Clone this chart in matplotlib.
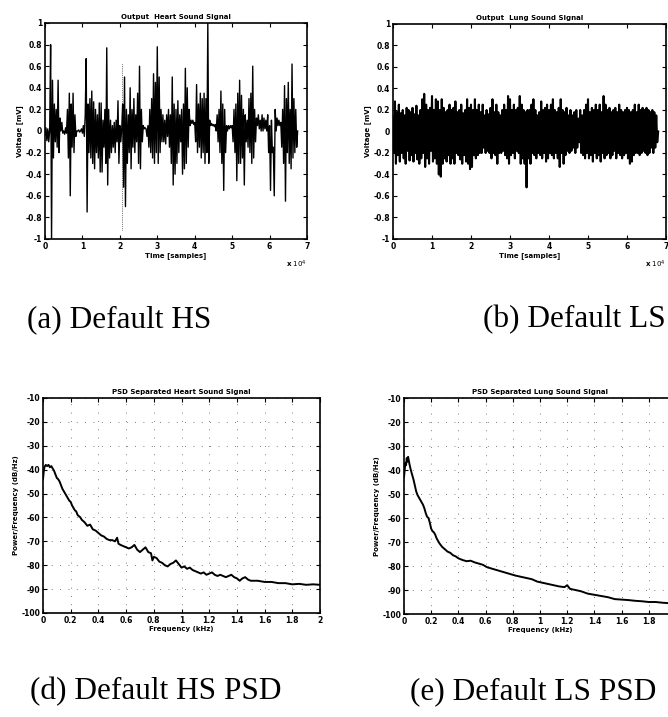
import numpy as np
import matplotlib
matplotlib.use('Agg')
import matplotlib.pyplot as plt
from matplotlib.ticker import FuncFormatter

plt.rcParams['axes.unicode_minus'] = False

# heart sound signal, one value every 250 samples
hs_volt = [
    -0.04, 0.03, -0.09, 0.02, -0.1, 0.0, 0.8, -1.0, 0.47, -0.25,
    0.25, -0.1, 0.2, -0.15, 0.47, -0.2, 0.12, 0.0, 0.08, -0.02,
    0.0, -0.03, 0.03, -0.02, 0.2, -0.25, 0.35, -0.6, 0.25, -0.15,
    0.35, -0.2, 0.15, -0.05, 0.0, 0.0, 0.01, -0.01, 0.0, 0.02,
    -0.02, 0.05, -0.05, 0.15, 0.67, -0.75, 0.25, -0.2, 0.3, -0.25,
    0.37, -0.3, 0.27, -0.35, 0.2, -0.2, 0.15, -0.25, 0.26, -0.38,
    0.26, -0.38, 0.1, -0.15, 0.2, -0.3, 0.77, -0.5, 0.2, -0.25,
    0.1, -0.2, 0.05, -0.15, 0.08, -0.2, 0.1, -0.1, 0.28, -0.3,
    0.05, -0.1, 0.02, 0.25, -0.52, 0.5, -0.7, 0.2, -0.3, 0.15,
    -0.2, 0.4, -0.35, 0.2, -0.15, 0.3, -0.2, 0.15, -0.1, 0.35,
    -0.3, 0.6, -0.35, 0.2, -0.1, 0.05, 0.02, 0.03, 0.02, -0.05,
    0.05, -0.15, 0.2, -0.2, 0.3, -0.25, 0.53, -0.3, 0.45, -0.2,
    0.78, -0.3, 0.5, -0.2, 0.2, -0.1, 0.15, -0.1, 0.1, -0.12,
    0.15, -0.05, 0.2, -0.15, 0.15, -0.3, 0.5, -0.5, 0.25, -0.4,
    0.2, -0.3, 0.28, -0.2, 0.15, -0.1, 0.2, -0.4, 0.25, -0.35,
    0.58, -0.3, 0.4, -0.15, 0.2, 0.05, 0.1, 0.07, 0.1, 0.06,
    0.08, -0.1, 0.43, -0.2, 0.25, -0.15, 0.35, -0.25, 0.3, -0.2,
    0.35, -0.3, 0.3, -0.2, 1.0, -0.3, 0.1, 0.05, 0.07, 0.05,
    0.06, 0.04, 0.06, 0.0, 0.15, -0.1, 0.2, -0.2, 0.37, -0.3,
    0.25, -0.55, 0.2, -0.2, 0.05, 0.0, 0.05, 0.02, 0.05, 0.03,
    0.05, -0.1, 0.2, -0.2, 0.25, -0.46, 0.35, -0.3, 0.47, -0.3,
    0.33, -0.25, 0.2, -0.5, 0.15, -0.1, 0.1, -0.15, 0.3, -0.2,
    0.35, -0.3, 0.6, -0.25, 0.2, -0.1, 0.12, 0.05, 0.15, 0.02,
    0.1, 0.0, 0.15, 0.0, 0.12, 0.02, 0.1, 0.0, 0.15, -0.2,
    0.05, -0.55, 0.1, -0.2, -0.15, -0.6, 0.2, 0.0, 0.12, 0.05,
    0.1, 0.05, 0.08, -0.15, 0.2, -0.3, 0.42, -0.65, 0.3, -0.2,
    0.45, -0.3, 0.2, -0.35, 0.62, -0.25, 0.3, -0.2, 0.2, -0.15,
    0.0,
]
# faint dotted spike in the heart sound trace
hs_dot_time = [20700, 20700]
hs_dot_volt = [-0.92, 0.63]

# lung sound signal, one value every 250 samples
ls_volt = [
    0.14, -0.2, 0.28, -0.3, 0.18, -0.22, 0.25, -0.28, 0.17, -0.2,
    0.2, -0.25, 0.15, -0.3, 0.22, -0.18, 0.2, -0.27, 0.18, -0.22,
    0.22, -0.28, 0.16, -0.2, 0.24, -0.26, 0.15, -0.3, 0.2, -0.25,
    0.3, -0.2, 0.35, -0.33, 0.25, -0.25, 0.2, -0.3, 0.22, -0.18,
    0.33, -0.28, 0.2, -0.25, 0.3, -0.3, 0.28, -0.4, 0.2, -0.42,
    0.3, -0.3, 0.22, -0.25, 0.18, -0.28, 0.2, -0.22, 0.25, -0.3,
    0.2, -0.25, 0.22, -0.3, 0.28, -0.2, 0.18, -0.22, 0.2, -0.26,
    0.25, -0.3, 0.17, -0.22, 0.2, -0.28, 0.3, -0.3, 0.22, -0.35,
    0.25, -0.33, 0.2, -0.22, 0.3, -0.25, 0.2, -0.22, 0.25, -0.2,
    0.18, -0.2, 0.25, -0.15, 0.15, -0.2, 0.2, -0.18, 0.16, -0.2,
    0.22, -0.25, 0.3, -0.2, 0.18, -0.22, 0.25, -0.3, 0.18, -0.2,
    0.15, -0.2, 0.2, -0.18, 0.25, -0.22, 0.2, -0.25, 0.33, -0.3,
    0.3, -0.22, 0.2, -0.2, 0.25, -0.25, 0.2, -0.18, 0.22, -0.2,
    0.33, -0.3, 0.25, -0.25, 0.2, -0.3, 0.18, -0.52, 0.2, -0.25,
    0.2, -0.3, 0.25, -0.2, 0.3, -0.22, 0.2, -0.25, 0.15, -0.2,
    0.18, -0.22, 0.28, -0.25, 0.2, -0.2, 0.22, -0.28, 0.25, -0.25,
    0.2, -0.2, 0.25, -0.22, 0.3, -0.25, 0.2, -0.2, 0.18, -0.25,
    0.22, -0.33, 0.3, -0.2, 0.2, -0.3, 0.18, -0.22, 0.22, -0.18,
    0.15, -0.2, 0.2, -0.18, 0.15, -0.15, 0.18, -0.2, 0.2, -0.15,
    0.12, -0.1, 0.2, -0.2, 0.15, -0.22, 0.2, -0.25, 0.25, -0.2,
    0.3, -0.25, 0.18, -0.22, 0.22, -0.28, 0.2, -0.2, 0.25, -0.25,
    0.2, -0.22, 0.25, -0.28, 0.18, -0.2, 0.33, -0.25, 0.25, -0.22,
    0.2, -0.2, 0.22, -0.25, 0.18, -0.22, 0.2, -0.18, 0.22, -0.25,
    0.18, -0.2, 0.25, -0.22, 0.2, -0.25, 0.18, -0.22, 0.2, -0.2,
    0.22, -0.25, 0.2, -0.3, 0.18, -0.28, 0.2, -0.22, 0.25, -0.2,
    0.18, -0.2, 0.25, -0.22, 0.2, -0.2, 0.22, -0.18, 0.2, -0.2,
    0.22, -0.22, 0.2, -0.2, 0.18, -0.15, 0.2, -0.2, 0.18, -0.15,
    0.15, -0.1, 0.0,
]
sample_step = 250

# PSD curves (kHz, dB/Hz)
hs_psd_freq = [
    0.0, 0.005, 0.01, 0.02, 0.03, 0.04, 0.05, 0.06, 0.07, 0.08,
    0.09, 0.1, 0.11, 0.12, 0.13, 0.14, 0.15, 0.16, 0.17, 0.18,
    0.19, 0.2, 0.21, 0.22, 0.23, 0.24, 0.25, 0.26, 0.27, 0.28,
    0.3, 0.32, 0.34, 0.36, 0.38, 0.4, 0.42, 0.44, 0.46, 0.48,
    0.5, 0.52, 0.535, 0.545, 0.56, 0.58, 0.6, 0.62, 0.64, 0.66,
    0.68, 0.7, 0.72, 0.74, 0.76, 0.78, 0.79, 0.8, 0.82, 0.84,
    0.86, 0.88, 0.9, 0.92, 0.94, 0.96, 0.98, 1.0, 1.02, 1.04,
    1.06, 1.08, 1.1, 1.12, 1.14, 1.16, 1.18, 1.2, 1.22, 1.24,
    1.26, 1.28, 1.3, 1.32, 1.34, 1.36, 1.38, 1.4, 1.42, 1.44,
    1.46, 1.48, 1.5, 1.55, 1.6, 1.65, 1.7, 1.75, 1.8, 1.85,
    1.9, 1.95, 2.0,
]
hs_psd_db = [
    -44, -41, -39, -38, -38.5, -38, -39, -38.5, -39.5, -40.5,
    -42, -43.5, -44, -45, -46.5, -48, -49, -50, -51, -52,
    -53, -53.5, -55, -56, -57, -57.5, -59, -59.5, -60, -61,
    -62, -63.5, -63, -65, -65.5, -66.5, -67.5, -68, -69, -69.5,
    -69.5, -70, -68.5, -71, -71.5, -72, -72.5, -73, -72.5, -71.5,
    -73.5, -74.5, -73.5, -72.5, -74.5, -75, -78, -76.5, -77, -78.5,
    -79, -80, -80.5, -79.5, -79, -78, -79.5, -81, -80.5, -81.5,
    -81, -82, -82.5, -83, -83.5, -83, -84, -83.5, -83, -84,
    -84.5, -84, -84.5, -85, -84.5, -84, -85, -85.5, -86.5, -85.5,
    -85, -86, -86.5, -86.5, -87, -87, -87.5, -87.5, -88, -87.8,
    -88.2, -88, -88.2,
]
ls_psd_freq = [
    0.0, 0.005, 0.01, 0.015, 0.02, 0.025, 0.03, 0.035, 0.04, 0.05,
    0.06, 0.07, 0.08, 0.09, 0.1, 0.11, 0.12, 0.13, 0.14, 0.15,
    0.16, 0.17, 0.18, 0.19, 0.2, 0.21, 0.22, 0.23, 0.24, 0.26,
    0.28, 0.3, 0.32, 0.34, 0.36, 0.38, 0.4, 0.43, 0.46, 0.49,
    0.52, 0.55, 0.58, 0.61, 0.64, 0.67, 0.7, 0.73, 0.76, 0.79,
    0.82, 0.86, 0.9, 0.94, 0.98, 1.02, 1.06, 1.1, 1.14, 1.18,
    1.2, 1.22, 1.26, 1.3, 1.35, 1.4, 1.45, 1.5, 1.55, 1.6,
    1.65, 1.7, 1.75, 1.8, 1.85, 1.9, 1.95, 2.0,
]
ls_psd_db = [
    -43, -40, -37, -38, -35, -36.5, -34.5, -36, -37.5, -40,
    -42, -44, -46.5, -49, -50.5, -51.5, -52.5, -53.5, -54.5, -56,
    -58, -59.5, -60, -62, -64.5, -65.5, -66, -67, -68.5, -70.5,
    -72, -73, -74, -74.5, -75.5, -76, -76.8, -77.5, -78, -77.8,
    -78.5, -79, -79.5, -80.5, -81, -81.5, -82, -82.5, -83, -83.5,
    -84, -84.5, -85, -85.5, -86.5, -87, -87.5, -88, -88.5, -88.8,
    -88, -89.5, -90, -90.5, -91.5, -92, -92.5, -93, -93.8, -94,
    -94.2, -94.5, -94.7, -95, -95, -95.3, -95.5, -95.5,
]

time_titles = ['Output  Heart Sound Signal', 'Output  Lung Sound Signal']
psd_titles = ['PSD Separated Heart Sound Signal', 'PSD Separated Lung Sound Signal']
captions_top = ['(a) Default HS', '(b) Default LS']
captions_bottom = ['(d) Default HS PSD', '(e) Default LS PSD']

W, H = 668, 717
fig = plt.figure(figsize=(W / 100, H / 100), dpi=100)


def box(l, t, r, b):
    return [l / W, 1 - b / H, (r - l) / W, (b - t) / H]


def gfmt(v, pos):
    v = round(v, 6)
    if v == 0:
        return '0'
    return '%g' % v


small = dict(fontsize=5, fontweight='bold')


def style(ax):
    ax.tick_params(direction='in', length=3, width=0.8, top=True, right=True,
                   labelsize=5.5, pad=2)
    for lab in ax.get_xticklabels() + ax.get_yticklabels():
        lab.set_fontweight('bold')
    for s in ax.spines.values():
        s.set_linewidth(1.2)


ax_hs = fig.add_axes(box(45, 23, 307, 239))
ax_ls = fig.add_axes(box(393, 24, 666, 239))
for ax, volt, title, lw in [(ax_hs, hs_volt, time_titles[0], 1.0),
                            (ax_ls, ls_volt, time_titles[1], 1.5)]:
    t = np.arange(len(volt)) * sample_step
    ax.plot(t, volt, color='black', lw=lw)
    ax.set_xlim(0, 70000)
    ax.set_ylim(-1, 1)
    ax.set_xticks(np.arange(0, 70001, 10000))
    ax.set_yticks(np.round(np.arange(-1, 1.01, 0.2), 1))
    ax.xaxis.set_major_formatter(FuncFormatter(lambda v, p: '%g' % (v / 1e4)))
    ax.yaxis.set_major_formatter(FuncFormatter(gfmt))
    ax.set_title(title, pad=3, **small)
    ax.set_xlabel('Time [samples]', labelpad=1, **small)
    ax.set_ylabel('Voltage [mV]', labelpad=2, **small)
    ax.text(1.0, -0.09, r'x $10^4$', transform=ax.transAxes, ha='right',
            va='top', fontsize=5, fontweight='bold')
    style(ax)
ax_hs.plot(hs_dot_time, hs_dot_volt, color='black', lw=0.5, ls=':')

ax_hp = fig.add_axes(box(43, 398, 320, 613))
ax_lp = fig.add_axes(box(404, 398, 676, 614))
for ax, f, db, title in [(ax_hp, hs_psd_freq, hs_psd_db, psd_titles[0]),
                         (ax_lp, ls_psd_freq, ls_psd_db, psd_titles[1])]:
    ax.plot(f, db, color='black', lw=1.4)
    ax.set_xlim(0, 2)
    ax.set_ylim(-100, -10)
    ax.set_xticks(np.round(np.arange(0, 2.01, 0.2), 1))
    ax.set_yticks(np.arange(-100, -9, 10))
    ax.xaxis.set_major_formatter(FuncFormatter(gfmt))
    ax.yaxis.set_major_formatter(FuncFormatter(gfmt))
    ax.grid(True, color='#555555', lw=0.6, ls=(0, (1, 9)))
    ax.set_title(title, pad=3, **small)
    ax.set_xlabel('Frequency (kHz)', labelpad=1, **small)
    ax.set_ylabel('Power/Frequency (dB/Hz)', labelpad=2, **small)
    style(ax)
# the last tick label of the right PSD falls off the page edge
ax_lp.get_xticklabels()[-1].set_visible(False)

cap = dict(fontsize=22.5, family='Liberation Serif', va='center', ha='left')
fig.text(27 / W, 1 - 320 / H, captions_top[0], **cap)
fig.text(483 / W, 1 - 320 / H, captions_top[1], **cap)
fig.text(30 / W, 1 - 692 / H, captions_bottom[0], **cap)
fig.text(410 / W, 1 - 692 / H, captions_bottom[1], **cap)

fig.savefig('out.png', dpi=100)
